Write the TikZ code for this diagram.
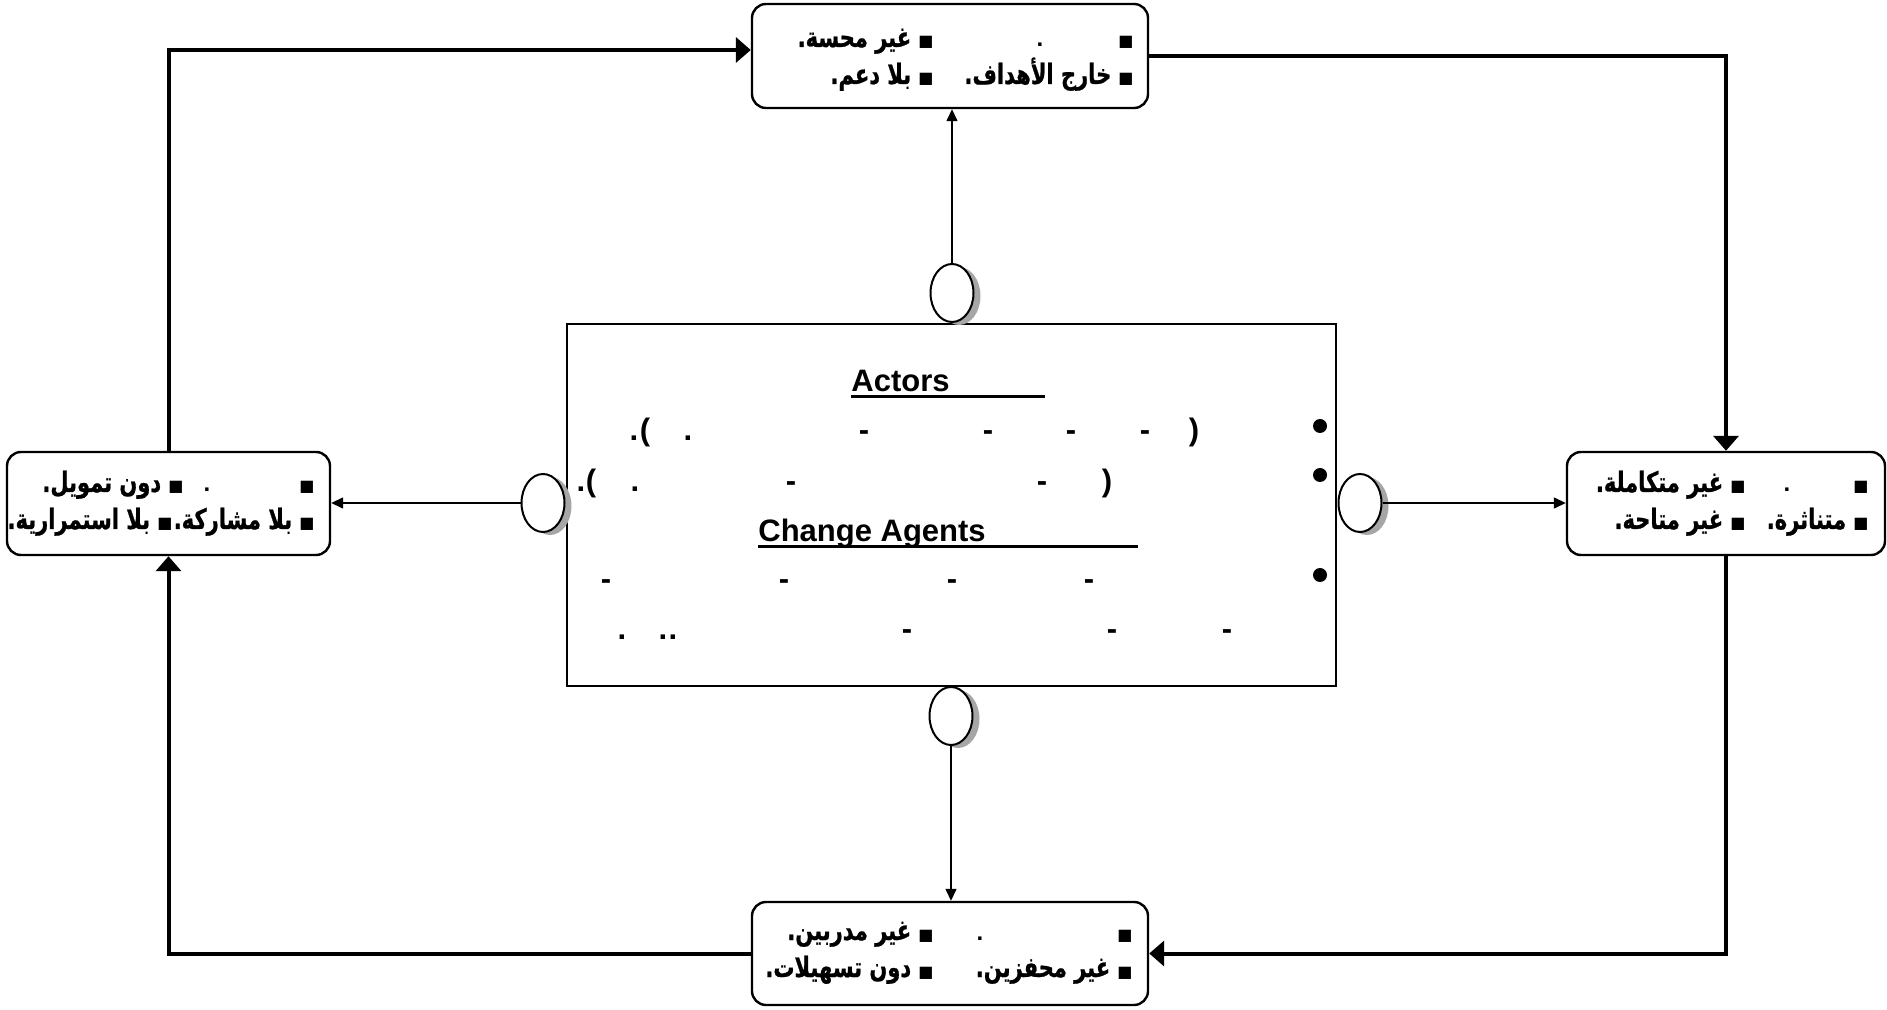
\documentclass[tikz,border=0pt]{standalone}
\usepackage{fontspec}
\setmainfont{Liberation Sans}
\newfontfamily\arabicfont[Script=Arabic,FakeStretch=0.75,FakeBold=0.8]{DejaVu Sans}
\newfontfamily\symfont{DejaVu Sans}
\TeXXeTstate=1
\usetikzlibrary{arrows.meta,shapes.geometric,shadows}

\newcommand{\artxt}[1]{{\arabicfont\bfseries\beginR #1\endR}}
\newcommand{\sqb}{{\symfont\fontsize{8}{8}\selectfont ■}}

\begin{document}
\begin{tikzpicture}[
  x=0.5pt,y=-0.5pt,
  pbox/.style={draw,line width=1.2pt,rounded corners=7pt,minimum width=198pt,
               minimum height=51.5pt,inner sep=0pt},
  core/.style={draw,line width=1pt,minimum width=384.5pt,minimum height=181pt,inner sep=0pt},
  lens/.style={ellipse,draw,line width=1pt,fill=white,minimum width=21.5pt,minimum height=29pt,
               inner sep=0pt,drop shadow={shadow xshift=3.5pt,shadow yshift=-1.5pt,fill=gray!70,opacity=1}},
  item/.style={anchor=base east,inner sep=0pt,font=\fontsize{14}{16}\selectfont},
  stop/.style={anchor=base,inner sep=0pt,font=\fontsize{12}{14}\selectfont\bfseries},
  head/.style={anchor=base west,inner sep=0pt,font=\fontsize{15.5}{18}\selectfont\bfseries},
  frag/.style={anchor=base,inner sep=0pt,font=\fontsize{15.5}{18}\selectfont\bfseries},
  dot/.style={circle,fill,inner sep=0pt,minimum size=7pt},
  linkar/.style={-{Triangle[length=6pt,width=5.5pt]},line width=0.7pt},
  loopar/.style={-{Triangle[length=7.5pt,width=12.5pt]},line width=2pt}
]
\useasboundingbox (0,0) rectangle (1887,1010);

% four outer boxes
\node[pbox,minimum height=52pt] (tbox) at (950,56) {};
\node[pbox,minimum width=161.5pt] (lbox) at (168.5,503.5) {};
\node[pbox,minimum width=159pt] (rbox) at (1726,503.5) {};
\node[pbox] (bbox) at (950,953.5) {};

% central box
\node[core] (mid) at (951.5,505) {};

% top box text
\node[item] (t1) at (1134,47) {\artxt{\sqb}};
\node[stop] (t2) at (1040,47) {.};
\node[item] (t3) at (934,47) {\artxt{\sqb{} غير محسة.}};
\node[item] (t4) at (1134,84) {\artxt{\sqb{} خارج الأهداف.}};
\node[item] (t5) at (934,84) {\artxt{\sqb{} بلا دعم.}};

% left box text
\node[item] (l1) at (315,492) {\artxt{\sqb}};
\node[stop] (l2) at (207,492) {.};
\node[item] (l3) at (184,492) {\artxt{\sqb{} دون تمويل.}};
\node[item] (l4) at (315,529) {\artxt{\sqb{} بلا مشاركة.}};
\node[item] (l5) at (173,529) {\artxt{\sqb{} بلا استمرارية.}};

% right box text
\node[item] (r1) at (1869,492) {\artxt{\sqb}};
\node[stop] (r2) at (1787,492) {.};
\node[item] (r3) at (1746,492) {\artxt{\sqb{} غير متكاملة.}};
\node[item] (r4) at (1869,529) {\artxt{\sqb{} متناثرة.}};
\node[item] (r5) at (1746,529) {\artxt{\sqb{} غير متاحة.}};

% bottom box text
\node[item] (b1) at (1133,940) {\artxt{\sqb}};
\node[stop] (b2) at (980,940) {.};
\node[item] (b3) at (934,940) {\artxt{\sqb{} غير مدربين.}};
\node[item] (b4) at (1133,977) {\artxt{\sqb{} غير محفزين.}};
\node[item] (b5) at (934,977) {\artxt{\sqb{} دون تسهيلات.}};

% central content
\node[head] (act) at (851,392) {Actors};
\draw[line width=1.5pt] ([yshift=-2.5pt]act.base west) -- ++(194,0);
\node[head] (cha) at (758,542) {Change Agents};
\draw[line width=1.5pt] ([yshift=-2.5pt]cha.base west) -- ++(380,0);

\node[dot] (d1) at (1320,426) {};
\node[dot] (d2) at (1320,475) {};
\node[dot] (d3) at (1320,575) {};

\foreach \x/\c [count=\i] in {634/.,645/{(},688/.,864/-,988/-,1071/-,1145/-,1194/{)}}
  \node[frag] (ra\i) at (\x,441) {\c};
\foreach \x/\c [count=\i] in {581/.,591/{(},635/.,791/-,1042/-,1107/{)}}
  \node[frag] (rb\i) at (\x,492) {\c};
\foreach \x [count=\i] in {606,784,952,1089}
  \node[frag] (rc\i) at (\x,590) {-};
\foreach \x/\c [count=\i] in {622/.,663/.,673/.,907/-,1112/-,1227/-}
  \node[frag] (rd\i) at (\x,640) {\c};

% lenses on the central box
\node[lens] (etop) at (952,293) {};
\node[lens] (eleft) at (543,503) {};
\node[lens] (eright) at (1360,503) {};
\node[lens] (ebot) at (951,716) {};

% thin links
\draw[linkar] (etop.north) -- (etop.north |- tbox.south);
\draw[linkar] (eleft.west) -- (eleft.west -| lbox.east);
\draw[linkar] (eright.east) -- (eright.east -| rbox.west);
\draw[linkar] (ebot.south) -- (ebot.south |- bbox.north);

% outer loop
\draw[loopar] (lbox.north) |- ([yshift=3pt]tbox.west);
\draw[loopar] (tbox.east) -| (rbox.north);
\draw[loopar] (rbox.south) |- (bbox.east);
\draw[loopar] (bbox.west) -| (lbox.south);
\end{tikzpicture}
\end{document}
